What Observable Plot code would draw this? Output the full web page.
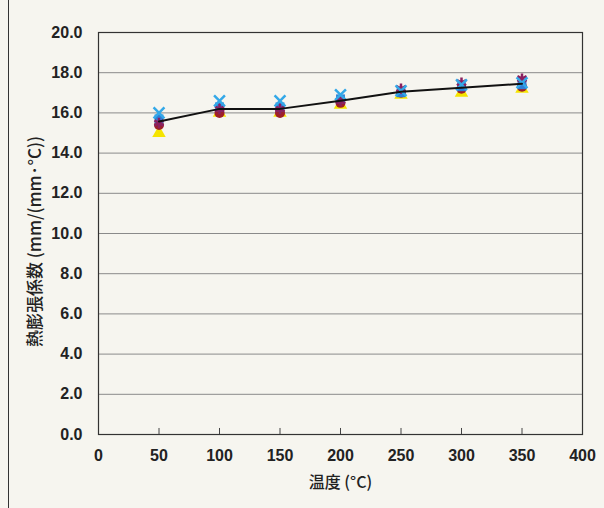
<!DOCTYPE html>
<html>
<head>
<meta charset="utf-8">
<script src="https://cdn.jsdelivr.net/npm/d3@7"></script>
<script src="https://cdn.jsdelivr.net/npm/@observablehq/plot@0.6"></script>
<style>
  html, body { margin: 0; padding: 0; background: #f6f5ef; }
  #wrap { position: relative; width: 604px; height: 508px; overflow: hidden; }
  #edge { position: absolute; left: 8px; top: 0; width: 0; height: 508px; border-left: 1.5px solid #333; }
  svg { font-family: "Liberation Sans", "Noto Sans CJK JP", sans-serif; }
</style>
</head>
<body>
<div id="wrap"><div id="edge"></div></div>
<script>
const temps = [50, 100, 150, 200, 250, 300, 350];
const yellowTri = [15.0, 16.0, 16.0, 16.4, 16.9, 17.0, 17.2];
const redCircle = [15.4, 16.0, 16.0, 16.5, 17.0, 17.2, 17.3];
const blueSquare = [15.7, 16.3, 16.3, 16.7, 17.0, 17.3, 17.4];
const purpleStar = [15.5, 16.2, 16.2, 16.6, 17.2, 17.5, 17.7];
const cyanCross = [16.0, 16.6, 16.6, 16.9, 17.1, 17.4, 17.5];
const meanLine = [15.57, 16.2, 16.2, 16.6, 17.05, 17.25, 17.45];
const xTicks = [0, 50, 100, 150, 200, 250, 300, 350, 400];
const yTicks = [0, 2, 4, 6, 8, 10, 12, 14, 16, 18, 20];
const yTitle = "熱膨張係数 (mm/(mm·°C))";
const xTitle = "温度 (°C)";

const series = [
  {name: "yellow", vals: yellowTri, symbol: "triangle", color: "#f5e400"},
  {name: "red", vals: redCircle, symbol: "circle", color: "#9e1f2a"},
  {name: "blue", vals: blueSquare, symbol: "square", color: "#2f7fd6"},
  {name: "purple", vals: purpleStar, symbol: "asterisk", color: "#8a2060", stroke: true},
  {name: "cyan", vals: cyanCross, symbol: "times", color: "#33a8e8", stroke: true}
];

const marks = [
  Plot.ruleY(yTicks.slice(1, -1), {stroke: "#8a8a8a", strokeWidth: 1}),
  Plot.ruleX(xTicks.slice(1, -1), {y1: 0, y2: 0.3, stroke: "#444", strokeWidth: 1})
];
for (const s of series) {
  const data = temps.map((t, i) => ({t, v: s.vals[i]}));
  if (s.stroke) {
    marks.push(Plot.dot(data, {x: "t", y: "v", symbol: () => s.symbol, r: 5, stroke: s.color, strokeWidth: 2.5, fill: "none"}));
  } else {
    marks.push(Plot.dot(data, {x: "t", y: "v", symbol: () => s.symbol, r: 5, fill: s.color, stroke: "none"}));
  }
}
marks.push(Plot.line(temps.map((t, i) => ({t, v: meanLine[i]})), {x: "t", y: "v", stroke: "#111", strokeWidth: 2}));
marks.push(Plot.frame({stroke: "#333", strokeWidth: 1.2}));
marks.push(Plot.text([yTitle], {frameAnchor: "left", textAnchor: "middle", text: d => d, rotate: -90, dx: -63, dy: 8, fontSize: 17, fontWeight: 500, fill: "#222", fontFamily: "Noto Sans CJK JP"}));
marks.push(Plot.text([xTitle], {frameAnchor: "bottom", lineAnchor: "bottom", text: d => d, dy: 53, fontSize: 16, fontWeight: 500, fill: "#222", fontFamily: "Noto Sans CJK JP"}));

const chart = Plot.plot({
  width: 604,
  height: 508,
  marginLeft: 98,
  marginRight: 22,
  marginTop: 32,
  marginBottom: 74,
  style: {background: "transparent", fontSize: "16px", color: "#222"},
  x: {domain: [0, 400], ticks: xTicks, tickFormat: d => String(d), tickSize: 0, tickPadding: 15, label: null},
  y: {domain: [0, 20], ticks: yTicks, tickFormat: d => d.toFixed(1), tickSize: 0, tickPadding: 16, label: null},
  marks
});
chart.querySelectorAll("g[aria-label$='tick label']").forEach(g => g.setAttribute("font-weight", "bold"));
document.getElementById("wrap").appendChild(chart);
</script>
</body>
</html>
